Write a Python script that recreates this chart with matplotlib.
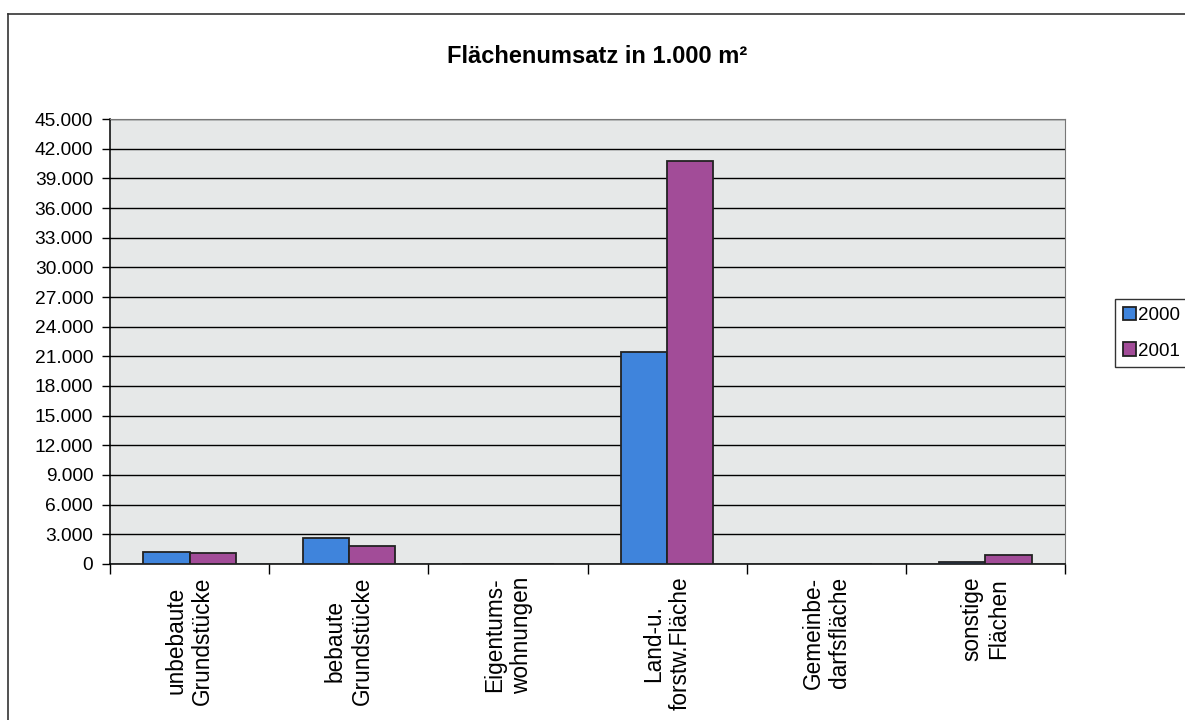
import matplotlib.pyplot as plt
import numpy as np
from matplotlib.lines import Line2D
from matplotlib.ticker import FuncFormatter

plt.rcParams['font.family'] = ['Liberation Sans', 'DejaVu Sans']

categories = ['unbebaute\nGrundstücke', 'bebaute\nGrundstücke', 'Eigentums-\nwohnungen',
              'Land-u.\nforstw.Fläche', 'Gemeinbe-\ndarfsfläche', 'sonstige\nFlächen']
years = ['2000', '2001']
vals_2000 = [1250, 2600, 40, 21400, 20, 250]
vals_2001 = [1080, 1800, 30, 40800, 20, 900]
yticks = list(range(0, 45001, 3000))

blue = '#3f84dc'
purple = '#a24c98'

fig = plt.figure(figsize=(11.85, 7.2), dpi=100)
ax = fig.add_axes([0.0928, 0.2167, 0.806, 0.618])

x = np.arange(len(categories))
w = 0.29
ax.bar(x - w/2, vals_2000, w, color=blue, edgecolor='#222222', linewidth=1.3, label=years[0], zorder=3)
ax.bar(x + w/2, vals_2001, w, color=purple, edgecolor='#222222', linewidth=1.3, label=years[1], zorder=3)

ax.set_facecolor('#e6e8e8')
ax.set_xlim(-0.5, len(categories) - 0.5)
ax.set_ylim(0, 45000)
ax.set_yticks(yticks)
ax.yaxis.set_major_formatter(FuncFormatter(lambda v, p: f'{int(v):,}'.replace(',', '.')))
ax.yaxis.grid(True, color='black', linewidth=1.0, zorder=1)
ax.tick_params(axis='y', labelsize=13.8, length=6, width=1, pad=6)

# category ticks sit between the groups, labels in the middle
ax.set_xticks(np.arange(len(categories) + 1) - 0.5)
ax.set_xticklabels([])
ax.set_xticks(x, minor=True)
ax.set_xticklabels(categories, minor=True, rotation=90, fontsize=16.3,
                   ha='center', va='top', multialignment='center', linespacing=1.2)
ax.tick_params(axis='x', which='major', length=7, width=1)
ax.tick_params(axis='x', which='minor', length=0, pad=9)

for s in ['top', 'right']:
    ax.spines[s].set_color('#777777')
    ax.spines[s].set_linewidth(0.8)
for s in ['left', 'bottom']:
    ax.spines[s].set_color('black')
    ax.spines[s].set_linewidth(1.1)

fig.text(0.504, 0.922, 'Flächenumsatz in 1.000 m²', ha='center', va='center',
         fontsize=17, fontweight='bold')

leg = fig.legend(loc='upper left', bbox_to_anchor=(1115/1185, 1 - 299/720),
                 fontsize=13.5, frameon=True, fancybox=False, edgecolor='black',
                 handlelength=0.7, handleheight=0.7, handletextpad=0.15,
                 labelspacing=1.0, borderpad=0.4, borderaxespad=0)
leg.get_frame().set_linewidth(1.0)

# outer chart border (top and left edges visible)
fig.add_artist(Line2D([8/1185, 8/1185], [0, 1 - 14/720], transform=fig.transFigure, color='#333333', lw=1.2))
fig.add_artist(Line2D([8/1185, 1], [1 - 14/720, 1 - 14/720], transform=fig.transFigure, color='#333333', lw=1.2))

fig.savefig('out.png', dpi=100)
